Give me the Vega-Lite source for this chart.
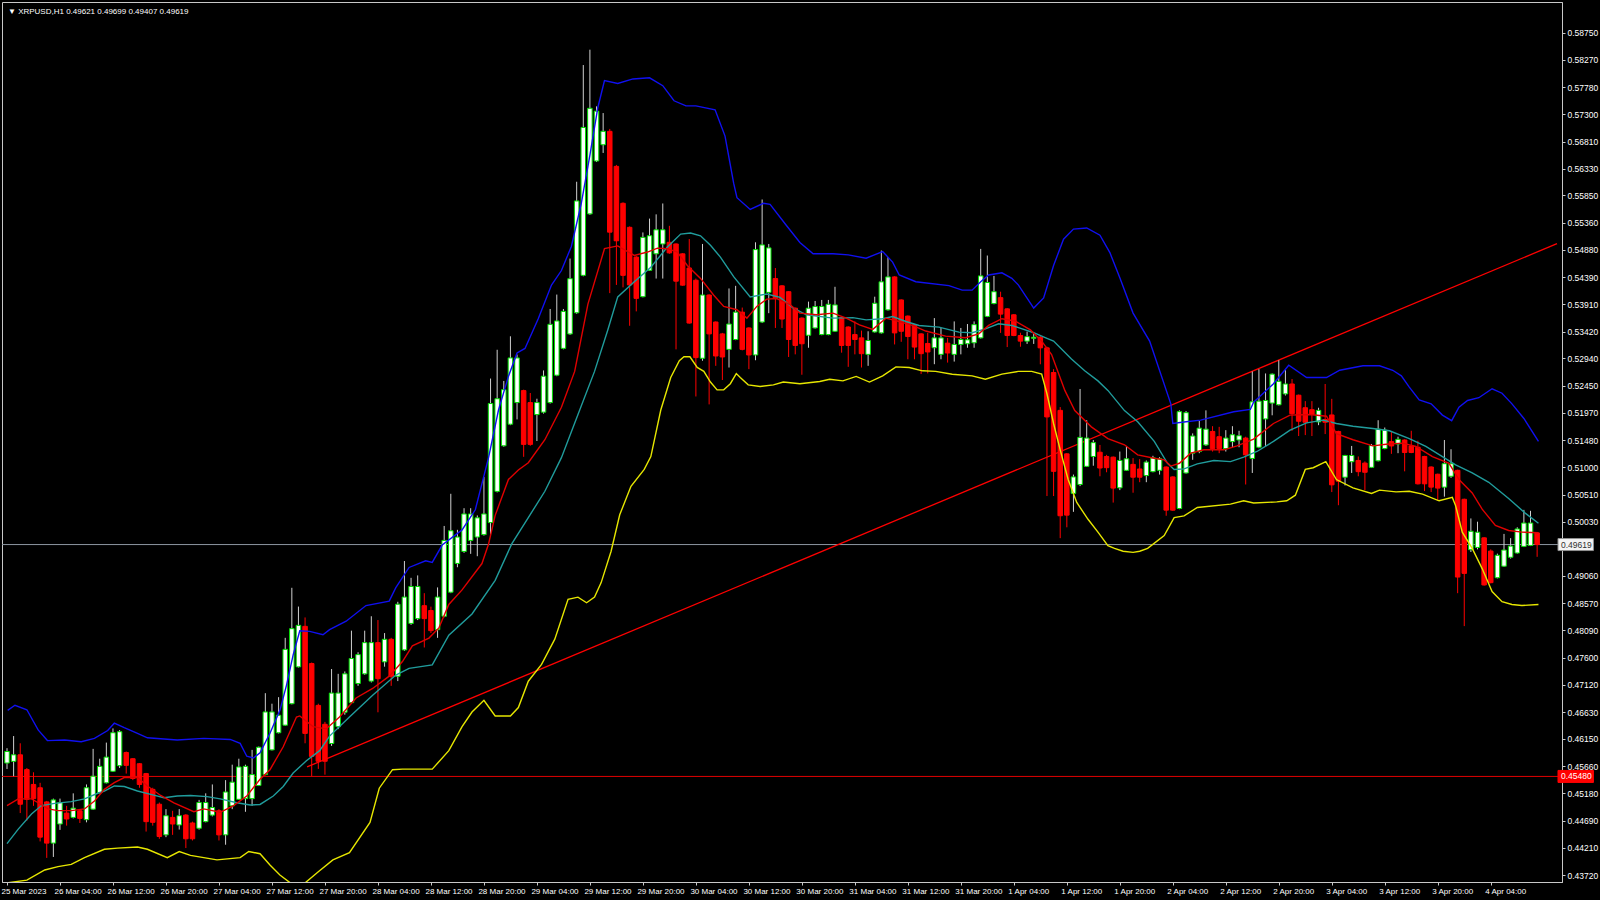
{
"$schema": "https://vega.github.io/schema/vega-lite/v6.json",
"width": 1560, "height": 880,
"autosize": {"type": "none"},
"padding": {"left": 2, "top": 2, "right": 38, "bottom": 18},
"background": "#000000",
"config": {"view": {"stroke": "#c8c8c8", "strokeWidth": 1, "fill": "#000000"}, "font": "Liberation Sans", "axis": {"labelOverlap": false}},
"datasets": {
"bars": [
{"i":0,"o":0.45719,"h":0.45984,"l":0.45613,"c":0.45925},
{"i":1,"o":0.45749,"h":0.46201,"l":0.45484,"c":0.45866},
{"i":2,"o":0.45866,"h":0.46072,"l":0.44826,"c":0.44984},
{"i":3,"o":0.45602,"h":0.45631,"l":0.44690,"c":0.45072},
{"i":4,"o":0.45337,"h":0.45554,"l":0.44955,"c":0.45084},
{"i":5,"o":0.45278,"h":0.45366,"l":0.44320,"c":0.44396},
{"i":6,"o":0.45025,"h":0.45043,"l":0.44026,"c":0.44290},
{"i":7,"o":0.44290,"h":0.45084,"l":0.44043,"c":0.45061},
{"i":8,"o":0.44631,"h":0.45084,"l":0.44526,"c":0.45014},
{"i":9,"o":0.44826,"h":0.44955,"l":0.44602,"c":0.44720},
{"i":10,"o":0.44749,"h":0.45178,"l":0.44731,"c":0.44914},
{"i":11,"o":0.44867,"h":0.44896,"l":0.44649,"c":0.44731},
{"i":12,"o":0.44708,"h":0.45337,"l":0.44661,"c":0.45278},
{"i":13,"o":0.44896,"h":0.45972,"l":0.44884,"c":0.45484},
{"i":14,"o":0.45190,"h":0.45796,"l":0.45178,"c":0.45660},
{"i":15,"o":0.45366,"h":0.46084,"l":0.45355,"c":0.45825},
{"i":16,"o":0.45572,"h":0.46337,"l":0.45560,"c":0.46260},
{"i":17,"o":0.45672,"h":0.46307,"l":0.45631,"c":0.46278},
{"i":18,"o":0.45907,"h":0.45925,"l":0.45531,"c":0.45678},
{"i":19,"o":0.45796,"h":0.45807,"l":0.45414,"c":0.45443},
{"i":20,"o":0.45707,"h":0.45719,"l":0.45278,"c":0.45337},
{"i":21,"o":0.45531,"h":0.45543,"l":0.44496,"c":0.44673},
{"i":22,"o":0.45249,"h":0.45278,"l":0.44602,"c":0.44661},
{"i":23,"o":0.44984,"h":0.45014,"l":0.44367,"c":0.44408},
{"i":24,"o":0.44437,"h":0.44896,"l":0.44396,"c":0.44778},
{"i":25,"o":0.44749,"h":0.44867,"l":0.44437,"c":0.44631},
{"i":26,"o":0.44614,"h":0.44896,"l":0.44532,"c":0.44778},
{"i":27,"o":0.44790,"h":0.44808,"l":0.44202,"c":0.44367},
{"i":28,"o":0.44649,"h":0.44673,"l":0.44337,"c":0.44367},
{"i":29,"o":0.44555,"h":0.45061,"l":0.44532,"c":0.45014},
{"i":30,"o":0.44673,"h":0.45178,"l":0.44661,"c":0.45014},
{"i":31,"o":0.44790,"h":0.45337,"l":0.44767,"c":0.44925},
{"i":32,"o":0.44867,"h":0.44896,"l":0.44337,"c":0.44437},
{"i":33,"o":0.44437,"h":0.45414,"l":0.44261,"c":0.45202},
{"i":34,"o":0.44955,"h":0.45690,"l":0.44896,"c":0.45378},
{"i":35,"o":0.45072,"h":0.45796,"l":0.45061,"c":0.45649},
{"i":36,"o":0.45084,"h":0.45690,"l":0.44849,"c":0.45660},
{"i":37,"o":0.45084,"h":0.45954,"l":0.44955,"c":0.45513},
{"i":38,"o":0.45319,"h":0.46013,"l":0.45308,"c":0.46001},
{"i":39,"o":0.45513,"h":0.46966,"l":0.45502,"c":0.46631},
{"i":40,"o":0.45954,"h":0.46778,"l":0.45943,"c":0.46631},
{"i":41,"o":0.46260,"h":0.46895,"l":0.46248,"c":0.46572},
{"i":42,"o":0.46395,"h":0.47954,"l":0.46384,"c":0.47748},
{"i":43,"o":0.46778,"h":0.48847,"l":0.46766,"c":0.48118},
{"i":44,"o":0.47436,"h":0.48512,"l":0.47424,"c":0.48177},
{"i":45,"o":0.48159,"h":0.48318,"l":0.46072,"c":0.46248},
{"i":46,"o":0.47495,"h":0.47513,"l":0.45484,"c":0.45837},
{"i":47,"o":0.46748,"h":0.46778,"l":0.45614,"c":0.45751},
{"i":48,"o":0.46411,"h":0.46454,"l":0.45511,"c":0.45751},
{"i":49,"o":0.46068,"h":0.47397,"l":0.46025,"c":0.46968},
{"i":50,"o":0.46368,"h":0.47311,"l":0.46325,"c":0.46968},
{"i":51,"o":0.46625,"h":0.47354,"l":0.46582,"c":0.47311},
{"i":52,"o":0.46797,"h":0.48082,"l":0.46780,"c":0.47585},
{"i":53,"o":0.47139,"h":0.47697,"l":0.47097,"c":0.47654},
{"i":54,"o":0.47311,"h":0.48082,"l":0.47294,"c":0.47868},
{"i":55,"o":0.47182,"h":0.48339,"l":0.47157,"c":0.47868},
{"i":56,"o":0.47868,"h":0.48271,"l":0.46625,"c":0.47225},
{"i":57,"o":0.47525,"h":0.48039,"l":0.47439,"c":0.47928},
{"i":58,"o":0.47928,"h":0.47954,"l":0.47097,"c":0.47268},
{"i":59,"o":0.47268,"h":0.48597,"l":0.47182,"c":0.48554},
{"i":60,"o":0.47739,"h":0.49325,"l":0.47722,"c":0.48682},
{"i":61,"o":0.48211,"h":0.49025,"l":0.48185,"c":0.48871},
{"i":62,"o":0.48297,"h":0.49068,"l":0.48271,"c":0.48871},
{"i":63,"o":0.48528,"h":0.48751,"l":0.47782,"c":0.48297},
{"i":64,"o":0.48442,"h":0.48511,"l":0.48039,"c":0.48082},
{"i":65,"o":0.48099,"h":0.48854,"l":0.47954,"c":0.48682},
{"i":66,"o":0.48339,"h":0.49951,"l":0.48322,"c":0.49693},
{"i":67,"o":0.48768,"h":0.50525,"l":0.48751,"c":0.49865},
{"i":68,"o":0.49282,"h":0.49882,"l":0.49214,"c":0.49753},
{"i":69,"o":0.49496,"h":0.50268,"l":0.49471,"c":0.50165},
{"i":70,"o":0.49693,"h":0.50268,"l":0.49453,"c":0.50165},
{"i":71,"o":0.49753,"h":0.50139,"l":0.49411,"c":0.50096},
{"i":72,"o":0.49796,"h":0.50825,"l":0.49779,"c":0.50165},
{"i":73,"o":0.50011,"h":0.52582,"l":0.49796,"c":0.52136},
{"i":74,"o":0.50568,"h":0.53096,"l":0.50550,"c":0.52222},
{"i":75,"o":0.51382,"h":0.52539,"l":0.51365,"c":0.52384},
{"i":76,"o":0.51767,"h":0.53336,"l":0.51750,"c":0.52950},
{"i":77,"o":0.52153,"h":0.53010,"l":0.51853,"c":0.52950},
{"i":78,"o":0.52367,"h":0.52384,"l":0.51185,"c":0.51407},
{"i":79,"o":0.52153,"h":0.52324,"l":0.51382,"c":0.51407},
{"i":80,"o":0.51939,"h":0.52222,"l":0.51467,"c":0.52153},
{"i":81,"o":0.51982,"h":0.52727,"l":0.51956,"c":0.52624},
{"i":82,"o":0.52153,"h":0.53824,"l":0.52136,"c":0.53550},
{"i":83,"o":0.52642,"h":0.54081,"l":0.52624,"c":0.53610},
{"i":84,"o":0.53121,"h":0.53824,"l":0.53104,"c":0.53781},
{"i":85,"o":0.53378,"h":0.54724,"l":0.53361,"c":0.54364},
{"i":86,"o":0.53756,"h":0.56095,"l":0.53738,"c":0.55752},
{"i":87,"o":0.54424,"h":0.58178,"l":0.54407,"c":0.57064},
{"i":88,"o":0.55521,"h":0.58452,"l":0.55504,"c":0.57406},
{"i":89,"o":0.56466,"h":0.57441,"l":0.56447,"c":0.57355},
{"i":90,"o":0.56755,"h":0.57321,"l":0.56609,"c":0.56995},
{"i":91,"o":0.56995,"h":0.57038,"l":0.54107,"c":0.55195},
{"i":92,"o":0.56369,"h":0.56395,"l":0.54253,"c":0.55041},
{"i":93,"o":0.55710,"h":0.55727,"l":0.54210,"c":0.54424},
{"i":94,"o":0.55281,"h":0.55298,"l":0.53524,"c":0.54253},
{"i":95,"o":0.54750,"h":0.54767,"l":0.53781,"c":0.54013},
{"i":96,"o":0.54043,"h":0.55190,"l":0.54032,"c":0.55102},
{"i":97,"o":0.54514,"h":0.55437,"l":0.54502,"c":0.55131},
{"i":98,"o":0.54808,"h":0.55513,"l":0.54367,"c":0.55237},
{"i":99,"o":0.54984,"h":0.55707,"l":0.54367,"c":0.55237},
{"i":100,"o":0.55014,"h":0.55308,"l":0.54808,"c":0.54825},
{"i":101,"o":0.54984,"h":0.54996,"l":0.53103,"c":0.54320},
{"i":102,"o":0.54808,"h":0.54820,"l":0.54237,"c":0.54249},
{"i":103,"o":0.54555,"h":0.55072,"l":0.53561,"c":0.53573},
{"i":104,"o":0.54337,"h":0.54367,"l":0.52262,"c":0.52956},
{"i":105,"o":0.52944,"h":0.54984,"l":0.52900,"c":0.54073},
{"i":106,"o":0.54073,"h":0.54085,"l":0.52121,"c":0.53379},
{"i":107,"o":0.53591,"h":0.53602,"l":0.52809,"c":0.52985},
{"i":108,"o":0.53379,"h":0.53397,"l":0.52556,"c":0.52967},
{"i":109,"o":0.53103,"h":0.54190,"l":0.52779,"c":0.53555},
{"i":110,"o":0.53279,"h":0.54237,"l":0.53267,"c":0.53767},
{"i":111,"o":0.53767,"h":0.53849,"l":0.53085,"c":0.53103},
{"i":112,"o":0.53485,"h":0.53497,"l":0.52750,"c":0.53003},
{"i":113,"o":0.53003,"h":0.55014,"l":0.52909,"c":0.54884},
{"i":114,"o":0.53591,"h":0.55778,"l":0.53573,"c":0.54967},
{"i":115,"o":0.54120,"h":0.54984,"l":0.53749,"c":0.54914},
{"i":116,"o":0.54367,"h":0.54555,"l":0.53485,"c":0.54026},
{"i":117,"o":0.54237,"h":0.54249,"l":0.53485,"c":0.53644},
{"i":118,"o":0.54132,"h":0.54143,"l":0.52967,"c":0.53279},
{"i":119,"o":0.53838,"h":0.53849,"l":0.53014,"c":0.53173},
{"i":120,"o":0.53661,"h":0.53673,"l":0.52650,"c":0.53203},
{"i":121,"o":0.53355,"h":0.53955,"l":0.53132,"c":0.53838},
{"i":122,"o":0.53485,"h":0.53967,"l":0.53473,"c":0.53867},
{"i":123,"o":0.53367,"h":0.53985,"l":0.53355,"c":0.53867},
{"i":124,"o":0.53367,"h":0.53985,"l":0.53355,"c":0.53908},
{"i":125,"o":0.53426,"h":0.54220,"l":0.53414,"c":0.53896},
{"i":126,"o":0.53673,"h":0.53685,"l":0.53044,"c":0.53173},
{"i":127,"o":0.53502,"h":0.53514,"l":0.52791,"c":0.53173},
{"i":128,"o":0.53367,"h":0.53602,"l":0.53014,"c":0.53279},
{"i":129,"o":0.53308,"h":0.53438,"l":0.52779,"c":0.53026},
{"i":130,"o":0.53014,"h":0.53426,"l":0.52809,"c":0.53261},
{"i":131,"o":0.53414,"h":0.54043,"l":0.53402,"c":0.53926},
{"i":132,"o":0.53397,"h":0.54867,"l":0.53385,"c":0.54308},
{"i":133,"o":0.53808,"h":0.54749,"l":0.53796,"c":0.54396},
{"i":134,"o":0.54396,"h":0.54408,"l":0.53191,"c":0.53397},
{"i":135,"o":0.53985,"h":0.53996,"l":0.53238,"c":0.53426},
{"i":136,"o":0.53697,"h":0.53708,"l":0.52926,"c":0.53332},
{"i":137,"o":0.53544,"h":0.53555,"l":0.52926,"c":0.53144},
{"i":138,"o":0.53379,"h":0.53391,"l":0.52662,"c":0.53026},
{"i":139,"o":0.53208,"h":0.53397,"l":0.52674,"c":0.53056},
{"i":140,"o":0.53132,"h":0.53661,"l":0.52838,"c":0.53308},
{"i":141,"o":0.53014,"h":0.53485,"l":0.52926,"c":0.53308},
{"i":142,"o":0.53214,"h":0.53308,"l":0.52867,"c":0.53038},
{"i":143,"o":0.53014,"h":0.53602,"l":0.52885,"c":0.53191},
{"i":144,"o":0.53191,"h":0.53485,"l":0.53014,"c":0.53279},
{"i":145,"o":0.53203,"h":0.53555,"l":0.53132,"c":0.53273},
{"i":146,"o":0.53220,"h":0.53602,"l":0.53132,"c":0.53544},
{"i":147,"o":0.53308,"h":0.54896,"l":0.53297,"c":0.54414},
{"i":148,"o":0.53691,"h":0.54778,"l":0.53679,"c":0.54296},
{"i":149,"o":0.53920,"h":0.54414,"l":0.53908,"c":0.54132},
{"i":150,"o":0.54026,"h":0.54132,"l":0.53397,"c":0.53732},
{"i":151,"o":0.53826,"h":0.53838,"l":0.53144,"c":0.53350},
{"i":152,"o":0.53720,"h":0.53732,"l":0.53338,"c":0.53350},
{"i":153,"o":0.53350,"h":0.53400,"l":0.53150,"c":0.53250},
{"i":154,"o":0.53250,"h":0.53420,"l":0.53200,"c":0.53330},
{"i":155,"o":0.53300,"h":0.53380,"l":0.53200,"c":0.53320},
{"i":156,"o":0.53320,"h":0.53350,"l":0.52837,"c":0.53130},
{"i":157,"o":0.53130,"h":0.53150,"l":0.50485,"c":0.51897},
{"i":158,"o":0.52690,"h":0.52750,"l":0.50485,"c":0.50926},
{"i":159,"o":0.52014,"h":0.52073,"l":0.49733,"c":0.50133},
{"i":160,"o":0.51238,"h":0.51250,"l":0.49927,"c":0.50144},
{"i":161,"o":0.50532,"h":0.50868,"l":0.50203,"c":0.50826},
{"i":162,"o":0.50691,"h":0.52396,"l":0.50662,"c":0.51532},
{"i":163,"o":0.51015,"h":0.51838,"l":0.51003,"c":0.51520},
{"i":164,"o":0.51191,"h":0.51485,"l":0.51026,"c":0.51438},
{"i":165,"o":0.51267,"h":0.51397,"l":0.50838,"c":0.50985},
{"i":166,"o":0.51191,"h":0.51220,"l":0.50909,"c":0.50991},
{"i":167,"o":0.51179,"h":0.51191,"l":0.50368,"c":0.50627},
{"i":168,"o":0.50632,"h":0.51279,"l":0.50591,"c":0.51120},
{"i":169,"o":0.50944,"h":0.51379,"l":0.50932,"c":0.51150},
{"i":170,"o":0.51050,"h":0.51162,"l":0.50544,"c":0.50821},
{"i":171,"o":0.50968,"h":0.51144,"l":0.50732,"c":0.50821},
{"i":172,"o":0.50850,"h":0.51120,"l":0.50732,"c":0.51091},
{"i":173,"o":0.50920,"h":0.51203,"l":0.50909,"c":0.51167},
{"i":174,"o":0.50944,"h":0.51179,"l":0.50868,"c":0.51150},
{"i":175,"o":0.51003,"h":0.51015,"l":0.50133,"c":0.50233},
{"i":176,"o":0.50826,"h":0.50838,"l":0.50221,"c":0.50233},
{"i":177,"o":0.50262,"h":0.52014,"l":0.50250,"c":0.51991},
{"i":178,"o":0.50897,"h":0.52002,"l":0.50885,"c":0.51973},
{"i":179,"o":0.51250,"h":0.51603,"l":0.51132,"c":0.51556},
{"i":180,"o":0.51279,"h":0.51826,"l":0.51250,"c":0.51697},
{"i":181,"o":0.51397,"h":0.52014,"l":0.51379,"c":0.51679},
{"i":182,"o":0.51638,"h":0.51732,"l":0.51279,"c":0.51332},
{"i":183,"o":0.51544,"h":0.51720,"l":0.51250,"c":0.51332},
{"i":184,"o":0.51332,"h":0.51661,"l":0.51279,"c":0.51520},
{"i":185,"o":0.51456,"h":0.51732,"l":0.51356,"c":0.51579},
{"i":186,"o":0.51485,"h":0.51650,"l":0.51356,"c":0.51561},
{"i":187,"o":0.51520,"h":0.51544,"l":0.50691,"c":0.51220},
{"i":188,"o":0.51156,"h":0.52708,"l":0.50897,"c":0.52167},
{"i":189,"o":0.51356,"h":0.52749,"l":0.51338,"c":0.52179},
{"i":190,"o":0.51861,"h":0.52673,"l":0.51379,"c":0.52191},
{"i":191,"o":0.52144,"h":0.52673,"l":0.51926,"c":0.52661},
{"i":192,"o":0.52114,"h":0.52908,"l":0.52102,"c":0.52532},
{"i":193,"o":0.52308,"h":0.52732,"l":0.52279,"c":0.52485},
{"i":194,"o":0.52485,"h":0.52573,"l":0.51650,"c":0.51955},
{"i":195,"o":0.52285,"h":0.52296,"l":0.51556,"c":0.51820},
{"i":196,"o":0.52061,"h":0.52179,"l":0.51573,"c":0.51802},
{"i":197,"o":0.52026,"h":0.52179,"l":0.51556,"c":0.51944},
{"i":198,"o":0.51808,"h":0.52061,"l":0.51750,"c":0.52014},
{"i":199,"o":0.51850,"h":0.52485,"l":0.51591,"c":0.51802},
{"i":200,"o":0.51932,"h":0.52220,"l":0.50556,"c":0.50685},
{"i":201,"o":0.51638,"h":0.51650,"l":0.50321,"c":0.50750},
{"i":202,"o":0.50821,"h":0.51220,"l":0.50674,"c":0.51209},
{"i":203,"o":0.51097,"h":0.51379,"l":0.50897,"c":0.51209},
{"i":204,"o":0.51120,"h":0.51191,"l":0.50838,"c":0.50920},
{"i":205,"o":0.51073,"h":0.51103,"l":0.50591,"c":0.50909},
{"i":206,"o":0.50997,"h":0.51414,"l":0.50985,"c":0.51385},
{"i":207,"o":0.51114,"h":0.51838,"l":0.51103,"c":0.51679},
{"i":208,"o":0.51332,"h":0.51708,"l":0.51320,"c":0.51661},
{"i":209,"o":0.51456,"h":0.51632,"l":0.51238,"c":0.51379},
{"i":210,"o":0.51414,"h":0.51544,"l":0.51250,"c":0.51497},
{"i":211,"o":0.51485,"h":0.51497,"l":0.50926,"c":0.51262},
{"i":212,"o":0.51379,"h":0.51650,"l":0.51250,"c":0.51262},
{"i":213,"o":0.51356,"h":0.51473,"l":0.50691,"c":0.50703},
{"i":214,"o":0.51191,"h":0.51203,"l":0.50574,"c":0.50703},
{"i":215,"o":0.51003,"h":0.51015,"l":0.50556,"c":0.50644},
{"i":216,"o":0.50874,"h":0.50885,"l":0.50397,"c":0.50627},
{"i":217,"o":0.50644,"h":0.51485,"l":0.50474,"c":0.51062},
{"i":218,"o":0.50838,"h":0.51320,"l":0.50809,"c":0.51062},
{"i":219,"o":0.50944,"h":0.50956,"l":0.48751,"c":0.49039},
{"i":220,"o":0.50427,"h":0.50438,"l":0.48163,"c":0.49104},
{"i":221,"o":0.49527,"h":0.50085,"l":0.49486,"c":0.49856},
{"i":222,"o":0.49568,"h":0.50027,"l":0.49533,"c":0.49839},
{"i":223,"o":0.49739,"h":0.49750,"l":0.48886,"c":0.48898},
{"i":224,"o":0.49503,"h":0.49533,"l":0.48927,"c":0.48939},
{"i":225,"o":0.49027,"h":0.49457,"l":0.49015,"c":0.49427},
{"i":226,"o":0.49233,"h":0.49809,"l":0.49221,"c":0.49521},
{"i":227,"o":0.49392,"h":0.49733,"l":0.49368,"c":0.49592},
{"i":228,"o":0.49468,"h":0.49927,"l":0.49457,"c":0.49897},
{"i":229,"o":0.49586,"h":0.50238,"l":0.49574,"c":0.50003},
{"i":230,"o":0.49603,"h":0.50221,"l":0.49592,"c":0.50003},
{"i":231,"o":0.49827,"h":0.49840,"l":0.49400,"c":0.49619}
],
"bands": [
{"i":0.1,"s":"up","v":0.4666},{"i":1.2,"s":"up","v":0.4675},{"i":3,"s":"up","v":0.4667},{"i":4.7,"s":"up","v":0.4631},{"i":6.1,"s":"up","v":0.4612},{"i":8.7,"s":"up","v":0.4613},{"i":11.2,"s":"up","v":0.4610},{"i":13.2,"s":"up","v":0.4616},{"i":15.2,"s":"up","v":0.4630},{"i":16.2,"s":"up","v":0.4643},{"i":17.7,"s":"up","v":0.4635},{"i":19.7,"s":"up","v":0.4625},{"i":21.2,"s":"up","v":0.4617},{"i":25.7,"s":"up","v":0.4613},{"i":29.7,"s":"up","v":0.4616},{"i":33.7,"s":"up","v":0.4614},{"i":35.2,"s":"up","v":0.4607},{"i":36.2,"s":"up","v":0.4584},{"i":37.2,"s":"up","v":0.4581},{"i":38.2,"s":"up","v":0.4590},{"i":39.7,"s":"up","v":0.4625},{"i":41.2,"s":"up","v":0.4666},{"i":42.2,"s":"up","v":0.4711},{"i":43.2,"s":"up","v":0.4765},{"i":44.2,"s":"up","v":0.4808},{"i":45.7,"s":"up","v":0.4807},{"i":47.7,"s":"up","v":0.4801},{"i":48.7,"s":"up","v":0.4810},{"i":51.2,"s":"up","v":0.4825},{"i":54.2,"s":"up","v":0.4853},{"i":57.7,"s":"up","v":0.4861},{"i":58.7,"s":"up","v":0.4885},{"i":60.7,"s":"up","v":0.4921},{"i":63.2,"s":"up","v":0.4933},{"i":64.2,"s":"up","v":0.4930},{"i":65.7,"s":"up","v":0.4961},{"i":68.7,"s":"up","v":0.4988},{"i":70.7,"s":"up","v":0.5024},{"i":72.7,"s":"up","v":0.5117},{"i":74.2,"s":"up","v":0.5202},{"i":75.7,"s":"up","v":0.5262},{"i":77,"s":"up","v":0.5304},{"i":78.2,"s":"up","v":0.5312},{"i":80.2,"s":"up","v":0.5365},{"i":82.2,"s":"up","v":0.5425},{"i":83.7,"s":"up","v":0.5451},{"i":85.2,"s":"up","v":0.5494},{"i":86.7,"s":"up","v":0.5571},{"i":88,"s":"up","v":0.5657},{"i":89.2,"s":"up","v":0.5742},{"i":90.2,"s":"up","v":0.5790},{"i":92.2,"s":"up","v":0.5785},{"i":94.5,"s":"up","v":0.5793},{"i":97,"s":"up","v":0.5795},{"i":99,"s":"up","v":0.5781},{"i":100.7,"s":"up","v":0.5754},{"i":102.5,"s":"up","v":0.5745},{"i":104,"s":"up","v":0.5745},{"i":106.9,"s":"up","v":0.5738},{"i":108.4,"s":"up","v":0.5691},{"i":109.7,"s":"up","v":0.5607},{"i":110.2,"s":"up","v":0.5581},{"i":112.2,"s":"up","v":0.5560},{"i":114.2,"s":"up","v":0.5571},{"i":115.2,"s":"up","v":0.5569},{"i":117.7,"s":"up","v":0.5531},{"i":119.7,"s":"up","v":0.5501},{"i":121.7,"s":"up","v":0.5481},{"i":124.7,"s":"up","v":0.5481},{"i":127,"s":"up","v":0.5479},{"i":129.7,"s":"up","v":0.5473},{"i":132.2,"s":"up","v":0.5485},{"i":133.7,"s":"up","v":0.5466},{"i":134.7,"s":"up","v":0.5443},{"i":137.2,"s":"up","v":0.5431},{"i":142.2,"s":"up","v":0.5424},{"i":144.2,"s":"up","v":0.5416},{"i":145.7,"s":"up","v":0.5416},{"i":147,"s":"up","v":0.5431},{"i":148.2,"s":"up","v":0.5443},{"i":150.2,"s":"up","v":0.5447},{"i":151.7,"s":"up","v":0.5437},{"i":152.7,"s":"up","v":0.5425},{"i":155,"s":"up","v":0.5384},{"i":156.5,"s":"up","v":0.5402},{"i":158,"s":"up","v":0.5460},{"i":159.5,"s":"up","v":0.5507},{"i":161,"s":"up","v":0.5525},{"i":163,"s":"up","v":0.5527},{"i":165,"s":"up","v":0.5514},{"i":166.5,"s":"up","v":0.5483},{"i":168,"s":"up","v":0.5438},{"i":170,"s":"up","v":0.5375},{"i":172.5,"s":"up","v":0.5325},{"i":175.7,"s":"up","v":0.5213},{"i":176,"s":"up","v":0.5178},{"i":178,"s":"up","v":0.5181},{"i":180.2,"s":"up","v":0.5184},{"i":185.2,"s":"up","v":0.5199},{"i":187.7,"s":"up","v":0.5203},{"i":188.2,"s":"up","v":0.5216},{"i":191.2,"s":"up","v":0.5249},{"i":193.5,"s":"up","v":0.5282},{"i":196.2,"s":"up","v":0.5260},{"i":199.2,"s":"up","v":0.5260},{"i":201.2,"s":"up","v":0.5273},{"i":204.7,"s":"up","v":0.5281},{"i":207.2,"s":"up","v":0.5281},{"i":209.2,"s":"up","v":0.5273},{"i":210.5,"s":"up","v":0.5263},{"i":211.7,"s":"up","v":0.5243},{"i":213.2,"s":"up","v":0.5220},{"i":215,"s":"up","v":0.5213},{"i":216.7,"s":"up","v":0.5193},{"i":218.1,"s":"up","v":0.5183},{"i":219.2,"s":"up","v":0.5207},{"i":220.5,"s":"up","v":0.5219},{"i":222.2,"s":"up","v":0.5224},{"i":224.2,"s":"up","v":0.5240},{"i":225.7,"s":"up","v":0.5232},{"i":227.2,"s":"up","v":0.5213},{"i":229,"s":"up","v":0.5187},{"i":231.2,"s":"up","v":0.5146},
{"i":0,"s":"mid","v":0.4428},{"i":1.7,"s":"mid","v":0.4454},{"i":3.7,"s":"mid","v":0.4481},{"i":5.2,"s":"mid","v":0.4496},{"i":7.2,"s":"mid","v":0.4500},{"i":9.7,"s":"mid","v":0.4503},{"i":11.7,"s":"mid","v":0.4508},{"i":13.7,"s":"mid","v":0.4518},{"i":14.7,"s":"mid","v":0.4522},{"i":16.2,"s":"mid","v":0.4531},{"i":17.7,"s":"mid","v":0.4530},{"i":19.7,"s":"mid","v":0.4522},{"i":21.7,"s":"mid","v":0.4516},{"i":23.7,"s":"mid","v":0.4510},{"i":25.7,"s":"mid","v":0.4513},{"i":27.7,"s":"mid","v":0.4514},{"i":30.2,"s":"mid","v":0.4512},{"i":32.2,"s":"mid","v":0.4508},{"i":34.7,"s":"mid","v":0.4501},{"i":36.7,"s":"mid","v":0.4497},{"i":38.2,"s":"mid","v":0.4498},{"i":40.2,"s":"mid","v":0.4513},{"i":41.7,"s":"mid","v":0.4530},{"i":43.2,"s":"mid","v":0.4554},{"i":45.2,"s":"mid","v":0.4576},{"i":47.2,"s":"mid","v":0.4594},{"i":48.7,"s":"mid","v":0.4620},{"i":51.7,"s":"mid","v":0.4654},{"i":55.2,"s":"mid","v":0.4693},{"i":58.7,"s":"mid","v":0.4729},{"i":60.7,"s":"mid","v":0.4741},{"i":64.2,"s":"mid","v":0.4747},{"i":66.7,"s":"mid","v":0.4800},{"i":70.2,"s":"mid","v":0.4838},{"i":73.7,"s":"mid","v":0.4898},{"i":76.2,"s":"mid","v":0.4963},{"i":78.7,"s":"mid","v":0.5010},{"i":81.2,"s":"mid","v":0.5057},{"i":83.7,"s":"mid","v":0.5117},{"i":86.2,"s":"mid","v":0.5194},{"i":88.7,"s":"mid","v":0.5271},{"i":90.7,"s":"mid","v":0.5345},{"i":92.2,"s":"mid","v":0.5404},{"i":94.7,"s":"mid","v":0.5431},{"i":97.2,"s":"mid","v":0.5457},{"i":99.7,"s":"mid","v":0.5493},{"i":101.7,"s":"mid","v":0.5516},{"i":103.2,"s":"mid","v":0.5518},{"i":104.7,"s":"mid","v":0.5513},{"i":106.2,"s":"mid","v":0.5496},{"i":107.7,"s":"mid","v":0.5475},{"i":109.7,"s":"mid","v":0.5440},{"i":112.2,"s":"mid","v":0.5404},{"i":114.7,"s":"mid","v":0.5409},{"i":116.7,"s":"mid","v":0.5403},{"i":118.7,"s":"mid","v":0.5384},{"i":120.7,"s":"mid","v":0.5372},{"i":124.7,"s":"mid","v":0.5366},{"i":127.7,"s":"mid","v":0.5367},{"i":129.7,"s":"mid","v":0.5363},{"i":132.2,"s":"mid","v":0.5365},{"i":133.7,"s":"mid","v":0.5369},{"i":135.7,"s":"mid","v":0.5360},{"i":137.7,"s":"mid","v":0.5353},{"i":140.7,"s":"mid","v":0.5350},{"i":143.7,"s":"mid","v":0.5341},{"i":145.7,"s":"mid","v":0.5340},{"i":147.7,"s":"mid","v":0.5347},{"i":149.7,"s":"mid","v":0.5356},{"i":151.7,"s":"mid","v":0.5353},{"i":152.7,"s":"mid","v":0.5349},{"i":155,"s":"mid","v":0.5340},{"i":157,"s":"mid","v":0.5330},{"i":158,"s":"mid","v":0.5325},{"i":160.7,"s":"mid","v":0.5293},{"i":162.7,"s":"mid","v":0.5272},{"i":164.7,"s":"mid","v":0.5254},{"i":166.2,"s":"mid","v":0.5237},{"i":168.7,"s":"mid","v":0.5201},{"i":170.7,"s":"mid","v":0.5181},{"i":173.2,"s":"mid","v":0.5146},{"i":175.2,"s":"mid","v":0.5107},{"i":176.2,"s":"mid","v":0.5096},{"i":177.7,"s":"mid","v":0.5097},{"i":179.7,"s":"mid","v":0.5106},{"i":182.2,"s":"mid","v":0.5112},{"i":184.7,"s":"mid","v":0.5110},{"i":186.7,"s":"mid","v":0.5118},{"i":188.7,"s":"mid","v":0.5128},{"i":191.2,"s":"mid","v":0.5146},{"i":193.7,"s":"mid","v":0.5166},{"i":196.2,"s":"mid","v":0.5179},{"i":198.7,"s":"mid","v":0.5184},{"i":200.7,"s":"mid","v":0.5178},{"i":203.2,"s":"mid","v":0.5173},{"i":206.2,"s":"mid","v":0.5169},{"i":208.7,"s":"mid","v":0.5165},{"i":211.7,"s":"mid","v":0.5151},{"i":214.2,"s":"mid","v":0.5137},{"i":216.7,"s":"mid","v":0.5119},{"i":218.7,"s":"mid","v":0.5104},{"i":221.2,"s":"mid","v":0.5090},{"i":223.7,"s":"mid","v":0.5073},{"i":226.7,"s":"mid","v":0.5044},{"i":229.2,"s":"mid","v":0.5018},{"i":231.2,"s":"mid","v":0.5000},
{"i":0,"s":"lo","v":0.4358},{"i":3,"s":"lo","v":0.4363},{"i":5.7,"s":"lo","v":0.4381},{"i":7.7,"s":"lo","v":0.4387},{"i":9.7,"s":"lo","v":0.4391},{"i":11.7,"s":"lo","v":0.4403},{"i":14.7,"s":"lo","v":0.4418},{"i":16.7,"s":"lo","v":0.4420},{"i":19.7,"s":"lo","v":0.4422},{"i":21.2,"s":"lo","v":0.4418},{"i":24.2,"s":"lo","v":0.4403},{"i":26,"s":"lo","v":0.4414},{"i":27.7,"s":"lo","v":0.4407},{"i":31.7,"s":"lo","v":0.4399},{"i":35.2,"s":"lo","v":0.4403},{"i":36.5,"s":"lo","v":0.4414},{"i":38.2,"s":"lo","v":0.4410},{"i":39.7,"s":"lo","v":0.4390},{"i":41.2,"s":"lo","v":0.4372},{"i":43,"s":"lo","v":0.4356},{"i":45,"s":"lo","v":0.4358},{"i":47,"s":"lo","v":0.4378},{"i":49.2,"s":"lo","v":0.4399},{"i":51.7,"s":"lo","v":0.4412},{"i":54.8,"s":"lo","v":0.4466},{"i":56.2,"s":"lo","v":0.4527},{"i":58.2,"s":"lo","v":0.4560},{"i":59.7,"s":"lo","v":0.4561},{"i":64.2,"s":"lo","v":0.4561},{"i":66.7,"s":"lo","v":0.4594},{"i":68.7,"s":"lo","v":0.4637},{"i":70.2,"s":"lo","v":0.4663},{"i":72,"s":"lo","v":0.4684},{"i":73.7,"s":"lo","v":0.4656},{"i":76,"s":"lo","v":0.4656},{"i":77.2,"s":"lo","v":0.4671},{"i":78.7,"s":"lo","v":0.4718},{"i":80.7,"s":"lo","v":0.4748},{"i":82.7,"s":"lo","v":0.4793},{"i":84.7,"s":"lo","v":0.4864},{"i":86.2,"s":"lo","v":0.4868},{"i":87.5,"s":"lo","v":0.4858},{"i":88.7,"s":"lo","v":0.4868},{"i":89.7,"s":"lo","v":0.4894},{"i":91.2,"s":"lo","v":0.4950},{"i":92.5,"s":"lo","v":0.5015},{"i":94.2,"s":"lo","v":0.5066},{"i":96.2,"s":"lo","v":0.5096},{"i":97.2,"s":"lo","v":0.5119},{"i":98.7,"s":"lo","v":0.5202},{"i":100.2,"s":"lo","v":0.5260},{"i":101.5,"s":"lo","v":0.5290},{"i":102.2,"s":"lo","v":0.5297},{"i":103.1,"s":"lo","v":0.5297},{"i":104.2,"s":"lo","v":0.5278},{"i":105.2,"s":"lo","v":0.5271},{"i":106.2,"s":"lo","v":0.5252},{"i":107.2,"s":"lo","v":0.5238},{"i":108.2,"s":"lo","v":0.5238},{"i":109.2,"s":"lo","v":0.5249},{"i":110.1,"s":"lo","v":0.5267},{"i":110.7,"s":"lo","v":0.5260},{"i":111.9,"s":"lo","v":0.5247},{"i":113.7,"s":"lo","v":0.5244},{"i":115.7,"s":"lo","v":0.5247},{"i":117.2,"s":"lo","v":0.5252},{"i":119.7,"s":"lo","v":0.5249},{"i":122.7,"s":"lo","v":0.5253},{"i":124.2,"s":"lo","v":0.5257},{"i":126.2,"s":"lo","v":0.5254},{"i":128.2,"s":"lo","v":0.5262},{"i":130.2,"s":"lo","v":0.5252},{"i":132.2,"s":"lo","v":0.5263},{"i":134.2,"s":"lo","v":0.5279},{"i":136.2,"s":"lo","v":0.5278},{"i":138.2,"s":"lo","v":0.5272},{"i":140.2,"s":"lo","v":0.5271},{"i":142.7,"s":"lo","v":0.5266},{"i":145.7,"s":"lo","v":0.5263},{"i":147.7,"s":"lo","v":0.5257},{"i":150.2,"s":"lo","v":0.5266},{"i":152.7,"s":"lo","v":0.5271},{"i":154.7,"s":"lo","v":0.5271},{"i":156.2,"s":"lo","v":0.5266},{"i":157,"s":"lo","v":0.5231},{"i":158,"s":"lo","v":0.5178},{"i":159,"s":"lo","v":0.5131},{"i":160.2,"s":"lo","v":0.5078},{"i":161.5,"s":"lo","v":0.5037},{"i":163.2,"s":"lo","v":0.5007},{"i":164.7,"s":"lo","v":0.4984},{"i":166.2,"s":"lo","v":0.4960},{"i":167.2,"s":"lo","v":0.4955},{"i":168.5,"s":"lo","v":0.4950},{"i":170,"s":"lo","v":0.4948},{"i":171,"s":"lo","v":0.4950},{"i":172.2,"s":"lo","v":0.4955},{"i":174.7,"s":"lo","v":0.4978},{"i":176.2,"s":"lo","v":0.5010},{"i":177.7,"s":"lo","v":0.5013},{"i":179.7,"s":"lo","v":0.5028},{"i":184.7,"s":"lo","v":0.5034},{"i":186.7,"s":"lo","v":0.5040},{"i":188.2,"s":"lo","v":0.5036},{"i":191.7,"s":"lo","v":0.5038},{"i":193.2,"s":"lo","v":0.5040},{"i":194.5,"s":"lo","v":0.5050},{"i":196,"s":"lo","v":0.5096},{"i":197.2,"s":"lo","v":0.5099},{"i":199.1,"s":"lo","v":0.5110},{"i":200.7,"s":"lo","v":0.5078},{"i":203.2,"s":"lo","v":0.5063},{"i":206,"s":"lo","v":0.5053},{"i":207.2,"s":"lo","v":0.5059},{"i":209.7,"s":"lo","v":0.5056},{"i":211.7,"s":"lo","v":0.5057},{"i":213.7,"s":"lo","v":0.5052},{"i":216.2,"s":"lo","v":0.5040},{"i":218.2,"s":"lo","v":0.5046},{"i":218.7,"s":"lo","v":0.5031},{"i":219.7,"s":"lo","v":0.4984},{"i":221.2,"s":"lo","v":0.4955},{"i":222.7,"s":"lo","v":0.4919},{"i":224.2,"s":"lo","v":0.4878},{"i":225.7,"s":"lo","v":0.4860},{"i":227.2,"s":"lo","v":0.4855},{"i":228.7,"s":"lo","v":0.4853},{"i":231.2,"s":"lo","v":0.4855},
{"i":0,"s":"ma","v":0.4496},{"i":1.7,"s":"ma","v":0.4508},{"i":3.7,"s":"ma","v":0.4508},{"i":4.7,"s":"ma","v":0.4501},{"i":6.2,"s":"ma","v":0.4490},{"i":7.7,"s":"ma","v":0.4487},{"i":9.7,"s":"ma","v":0.4487},{"i":11.7,"s":"ma","v":0.4490},{"i":13.2,"s":"ma","v":0.4504},{"i":14.7,"s":"ma","v":0.4525},{"i":16.2,"s":"ma","v":0.4537},{"i":17.7,"s":"ma","v":0.4546},{"i":19.7,"s":"ma","v":0.4546},{"i":21.2,"s":"ma","v":0.4531},{"i":23.2,"s":"ma","v":0.4514},{"i":25.2,"s":"ma","v":0.4501},{"i":28.2,"s":"ma","v":0.4485},{"i":29.7,"s":"ma","v":0.4490},{"i":32.2,"s":"ma","v":0.4484},{"i":34.2,"s":"ma","v":0.4496},{"i":36.2,"s":"ma","v":0.4513},{"i":38.2,"s":"ma","v":0.4543},{"i":39.7,"s":"ma","v":0.4560},{"i":41.7,"s":"ma","v":0.4601},{"i":43.7,"s":"ma","v":0.4654},{"i":44.2,"s":"ma","v":0.4656},{"i":46.2,"s":"ma","v":0.4637},{"i":48.2,"s":"ma","v":0.4633},{"i":50.2,"s":"ma","v":0.4654},{"i":52.7,"s":"ma","v":0.4688},{"i":55.2,"s":"ma","v":0.4705},{"i":57.7,"s":"ma","v":0.4727},{"i":59.7,"s":"ma","v":0.4753},{"i":61.2,"s":"ma","v":0.4781},{"i":63.7,"s":"ma","v":0.4795},{"i":65.2,"s":"ma","v":0.4813},{"i":66.7,"s":"ma","v":0.4855},{"i":68.7,"s":"ma","v":0.4881},{"i":71.7,"s":"ma","v":0.4928},{"i":72.7,"s":"ma","v":0.4963},{"i":73.7,"s":"ma","v":0.5014},{"i":75.7,"s":"ma","v":0.5078},{"i":77.2,"s":"ma","v":0.5095},{"i":78.7,"s":"ma","v":0.5108},{"i":81.2,"s":"ma","v":0.5149},{"i":83.7,"s":"ma","v":0.5207},{"i":85.7,"s":"ma","v":0.5271},{"i":87.7,"s":"ma","v":0.5391},{"i":90.2,"s":"ma","v":0.5490},{"i":92.2,"s":"ma","v":0.5495},{"i":94.7,"s":"ma","v":0.5478},{"i":96.7,"s":"ma","v":0.5484},{"i":98.2,"s":"ma","v":0.5491},{"i":99.7,"s":"ma","v":0.5490},{"i":101.2,"s":"ma","v":0.5484},{"i":102.7,"s":"ma","v":0.5460},{"i":104.7,"s":"ma","v":0.5437},{"i":106.7,"s":"ma","v":0.5407},{"i":108.2,"s":"ma","v":0.5387},{"i":110.2,"s":"ma","v":0.5381},{"i":111.7,"s":"ma","v":0.5366},{"i":113.2,"s":"ma","v":0.5387},{"i":114.7,"s":"ma","v":0.5400},{"i":116.2,"s":"ma","v":0.5401},{"i":118.2,"s":"ma","v":0.5390},{"i":119.7,"s":"ma","v":0.5375},{"i":122.2,"s":"ma","v":0.5372},{"i":124.7,"s":"ma","v":0.5375},{"i":126.7,"s":"ma","v":0.5366},{"i":128.7,"s":"ma","v":0.5354},{"i":130.7,"s":"ma","v":0.5346},{"i":132.7,"s":"ma","v":0.5366},{"i":134.7,"s":"ma","v":0.5360},{"i":136.7,"s":"ma","v":0.5353},{"i":138.7,"s":"ma","v":0.5343},{"i":141.7,"s":"ma","v":0.5334},{"i":144.7,"s":"ma","v":0.5331},{"i":146.7,"s":"ma","v":0.5338},{"i":148.2,"s":"ma","v":0.5353},{"i":150.2,"s":"ma","v":0.5365},{"i":152.2,"s":"ma","v":0.5361},{"i":154.5,"s":"ma","v":0.5345},{"i":156.2,"s":"ma","v":0.5325},{"i":157.7,"s":"ma","v":0.5301},{"i":159.7,"s":"ma","v":0.5237},{"i":161.2,"s":"ma","v":0.5201},{"i":163.7,"s":"ma","v":0.5172},{"i":166.2,"s":"ma","v":0.5151},{"i":168.7,"s":"ma","v":0.5140},{"i":170.7,"s":"ma","v":0.5122},{"i":173.2,"s":"ma","v":0.5116},{"i":174.7,"s":"ma","v":0.5113},{"i":175.7,"s":"ma","v":0.5102},{"i":177,"s":"ma","v":0.5107},{"i":178.7,"s":"ma","v":0.5125},{"i":180.7,"s":"ma","v":0.5131},{"i":183.7,"s":"ma","v":0.5131},{"i":185.7,"s":"ma","v":0.5138},{"i":188.2,"s":"ma","v":0.5150},{"i":191.2,"s":"ma","v":0.5178},{"i":193.7,"s":"ma","v":0.5193},{"i":196.7,"s":"ma","v":0.5194},{"i":199.2,"s":"ma","v":0.5191},{"i":200.7,"s":"ma","v":0.5160},{"i":203.2,"s":"ma","v":0.5149},{"i":206.2,"s":"ma","v":0.5138},{"i":208.2,"s":"ma","v":0.5141},{"i":210.7,"s":"ma","v":0.5143},{"i":212.7,"s":"ma","v":0.5137},{"i":215.2,"s":"ma","v":0.5119},{"i":217.7,"s":"ma","v":0.5107},{"i":219.2,"s":"ma","v":0.5078},{"i":221.2,"s":"ma","v":0.5054},{"i":222.7,"s":"ma","v":0.5025},{"i":224.7,"s":"ma","v":0.4996},{"i":226.7,"s":"ma","v":0.4987},{"i":228.7,"s":"ma","v":0.4984},{"i":231.2,"s":"ma","v":0.4983}
],
"trend": [{"i":45.3,"v":0.4565},{"i":234,"v":0.5499}],
"levels": [{"v":0.49619,"lab":"0.49619","k":"bid"},{"v":0.4548,"lab":"0.45480","k":"lvl"}],
"head": [{"t":"▼ XRPUSD,H1  0.49621 0.49699 0.49407 0.49619"}]
},
"layer": [
{"data": {"name": "levels"}, "mark": {"type": "rule", "strokeWidth": 1, "clip": true},
 "encoding": {
  "y": {"field": "v", "type": "quantitative", "scale": {"domain": [0.43685, 0.59214], "nice": false, "zero": false},
   "axis": {"orient": "right", "title": null, "grid": false, "tickCount": 100, "values": [0.5875,0.5827,0.5778,0.573,0.5681,0.5633,0.5585,0.5536,0.5488,0.5439,0.5391,0.5342,0.5294,0.5245,0.5197,0.5148,0.51,0.5051,0.5003,0.4906,0.4857,0.4809,0.476,0.4712,0.4663,0.4615,0.4566,0.4518,0.4469,0.4421,0.4372], "format": ".5f", "labelColor": "#ffffff", "labelFontSize": 8.5, "labelFont": "Liberation Sans", "labelAlign": "left", "labelBaseline": "middle", "labelPadding": 2, "tickSize": 3, "tickColor": "#c8c8c8", "domainColor": "#c8c8c8", "labelOverlap": false, "labelBound": false, "labelFlush": false}},
  "color": {"condition": {"test": "datum.k == 'bid'", "value": "#8c96a0"}, "value": "#e00000"}}},
{"data": {"name": "trend"}, "mark": {"type": "line", "color": "#ff0000", "strokeWidth": 1.3, "clip": true},
 "encoding": {"x": {"field": "i", "type": "quantitative"}, "y": {"field": "v", "type": "quantitative"}}},
{"data": {"name": "bars"}, "mark": {"type": "rule", "strokeWidth": 1, "clip": true},
 "encoding": {
  "x": {"field": "i", "type": "quantitative", "scale": {"domain": [0, 234], "nice": false, "zero": false},
   "axis": {"orient": "bottom", "title": null, "grid": false, "tickCount": 100, "values": [0,8,16,24,32,40,48,56,64,72,80,88,96,104,112,120,128,136,144,152,160,168,176,184,192,200,208,216,224],
    "labelExpr": "['25 Mar 2023','26 Mar 04:00','26 Mar 12:00','26 Mar 20:00','27 Mar 04:00','27 Mar 12:00','27 Mar 20:00','28 Mar 04:00','28 Mar 12:00','28 Mar 20:00','29 Mar 04:00','29 Mar 12:00','29 Mar 20:00','30 Mar 04:00','30 Mar 12:00','30 Mar 20:00','31 Mar 04:00','31 Mar 12:00','31 Mar 20:00','1 Apr 04:00','1 Apr 12:00','1 Apr 20:00','2 Apr 04:00','2 Apr 12:00','2 Apr 20:00','3 Apr 04:00','3 Apr 12:00','3 Apr 20:00','4 Apr 04:00'][round(datum.value / 8)]",
    "labelColor": "#ffffff", "labelFontSize": 8, "labelFont": "Liberation Sans", "labelAlign": "left", "labelBaseline": "top", "labelPadding": 2, "labelOffset": -6, "tickSize": 3, "tickColor": "#c8c8c8", "domainColor": "#c8c8c8", "labelOverlap": false, "labelBound": false, "labelFlush": false}},
  "y": {"field": "l", "type": "quantitative"},
  "y2": {"field": "h"},
  "color": {"condition": {"test": "datum.c >= datum.o", "value": "#d0d0d0"}, "value": "#ff0000"}}},
{"data": {"name": "bars"}, "mark": {"type": "bar", "size": 4.5, "strokeWidth": 1, "clip": true},
 "encoding": {
  "x": {"field": "i", "type": "quantitative"},
  "y": {"field": "o", "type": "quantitative"},
  "y2": {"field": "c"},
  "fill": {"condition": {"test": "datum.c >= datum.o", "value": "#ffffff"}, "value": "#ff0000"},
  "stroke": {"condition": {"test": "datum.c >= datum.o", "value": "#00e000"}, "value": "#ff0000"}}},
{"data": {"name": "bands"}, "mark": {"type": "line", "strokeWidth": 1.4, "clip": true},
 "encoding": {
  "x": {"field": "i", "type": "quantitative"},
  "y": {"field": "v", "type": "quantitative"},
  "detail": {"field": "s"},
  "color": {"condition": [{"test": "datum.s == 'up'", "value": "#1010f0"}, {"test": "datum.s == 'mid'", "value": "#209c9c"}, {"test": "datum.s == 'lo'", "value": "#e6e600"}], "value": "#e00000"}}},
{"data": {"name": "levels"}, "mark": {"type": "bar", "size": 12, "strokeWidth": 1},
 "encoding": {
  "x": {"datum": 234.15, "type": "quantitative"},
  "x2": {"datum": 239.5},
  "y": {"field": "v", "type": "quantitative"},
  "fill": {"condition": {"test": "datum.k == 'bid'", "value": "#f4f4f4"}, "value": "#ff0000"},
  "stroke": {"condition": {"test": "datum.k == 'bid'", "value": "#909090"}, "value": "#ff0000"}}},
{"data": {"name": "levels"}, "mark": {"type": "text", "align": "left", "baseline": "middle", "fontSize": 8.5, "font": "Liberation Sans", "dx": 3},
 "encoding": {
  "x": {"datum": 234.15, "type": "quantitative"},
  "y": {"field": "v", "type": "quantitative"},
  "text": {"field": "lab"},
  "color": {"condition": {"test": "datum.k == 'bid'", "value": "#303030"}, "value": "#ffffff"}}},
{"data": {"name": "head"}, "mark": {"type": "text", "align": "left", "baseline": "middle", "fontSize": 8, "font": "Liberation Sans", "color": "#ffffff", "dx": 1, "dy": 5},
 "encoding": {
  "x": {"datum": 0, "type": "quantitative"},
  "y": {"datum": 0.59214, "type": "quantitative"},
  "text": {"field": "t"}}}
]
}
